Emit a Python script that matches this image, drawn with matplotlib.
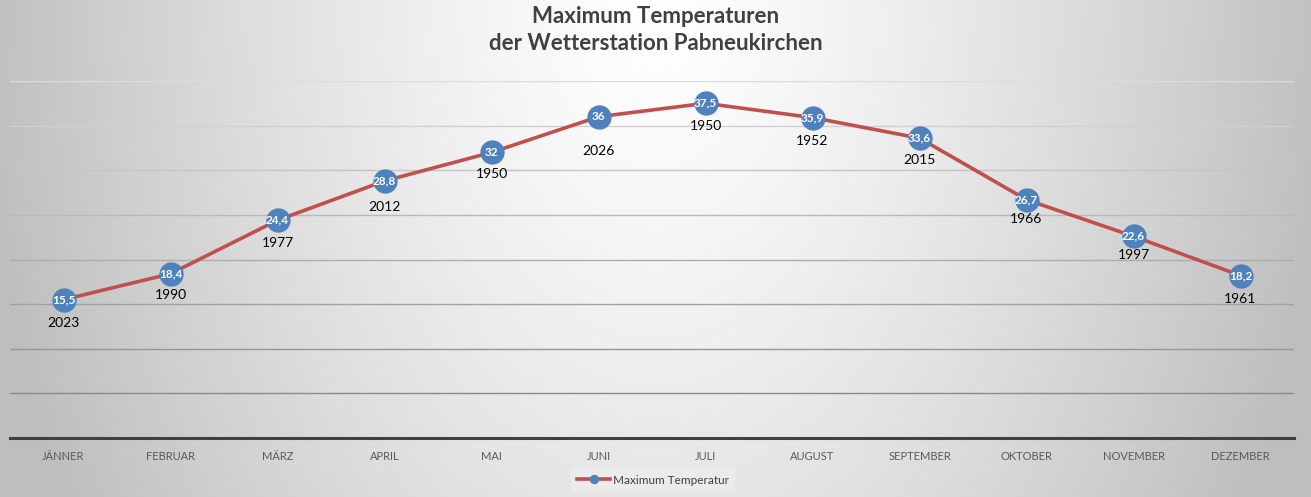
import numpy as np
import matplotlib
matplotlib.use("Agg")
import matplotlib.pyplot as plt

plt.rcParams['font.family'] = ['Lato', 'DejaVu Sans']

months = ["JÄNNER", "FEBRUAR", "MÄRZ", "APRIL", "MAI", "JUNI", "JULI",
          "AUGUST", "SEPTEMBER", "OKTOBER", "NOVEMBER", "DEZEMBER"]
max_temp = [15.5, 18.4, 24.4, 28.8, 32, 36, 37.5, 35.9, 33.6, 26.7, 22.6, 18.2]
years = ["2023", "1990", "1977", "2012", "1950", "2026", "1950", "1952",
         "2015", "1966", "1997", "1961"]
series_name = "Maximum Temperatur"
title = "Maximum Temperaturen\nder Wetterstation Pabneukirchen"

# layout: pixel offsets of the year labels below each marker
year_offsets_px = [23, 21, 23, 26, 22, 34, 23, 23, 22, 19, 19, 23]

W, H, DPI = 1311, 497, 100
fig = plt.figure(figsize=(W / DPI, H / DPI), dpi=DPI)

# radial gradient background
bg = fig.add_axes([0, 0, 1, 1], zorder=-10)
yy, xx = np.mgrid[0:H, 0:W]
r = np.sqrt(((xx - 655) / 655.0) ** 2 + ((yy - 0) / 1000.0) ** 2)
val = 255 - 62 * np.clip(r, 0, 1.15) ** 1.3
val = np.clip(val, 190, 255) / 255.0
img = np.dstack([val, val, val])
bg.imshow(img, aspect='auto', extent=[0, 1, 0, 1], origin='upper')
bg.axis('off')

left, right = 10 / W, 1294 / W
bottom, top = 1 - 438 / H, 1 - 81 / H
ax = fig.add_axes([left, bottom, right - left, top - bottom])
ax.patch.set_alpha(0)
x = np.arange(len(months))
ax.set_xlim(-0.5, len(months) - 0.5)
ax.set_ylim(0, 40)

# gridlines with vertical colour gradient
for g in range(5, 41, 5):
    t = (g - 5) / 35.0
    c = (0x8a + t * (0xdc - 0x8a)) / 255.0
    ax.axhline(g, color=(c, c, c), lw=1.0, zorder=1)

for s in ['top', 'right', 'left']:
    ax.spines[s].set_visible(False)
ax.spines['bottom'].set_color('#404040')
ax.spines['bottom'].set_linewidth(2.2)
ax.set_yticks([])
ax.set_xticks(x)
ax.set_xticklabels(months, fontsize=8, color='#595959')
ax.tick_params(axis='x', length=0, pad=9)

line, = ax.plot(x, max_temp, color='#c0504d', lw=2.6, marker='o',
                markersize=16.5, markerfacecolor='#4f81bd',
                markeredgecolor='#4f81bd', zorder=3, label=series_name)

for xi, v, yr, off in zip(x, max_temp, years, year_offsets_px):
    lbl = f"{v:g}".replace('.', ',')
    ax.text(xi, v, lbl, ha='center', va='center', color='white',
            fontsize=8.5, fontweight='bold', zorder=4)
    ax.annotate(yr, (xi, v), xytext=(0, -off * 72 / DPI),
                textcoords='offset points', ha='center', va='center',
                fontsize=10, color='black', zorder=4)

fig.text(0.5, 1 - 30 / H, title, ha='center', va='center', fontsize=16,
         fontweight='bold', color='#404040', linespacing=1.3)

# legend
leg = fig.legend(handles=[line], loc='center', bbox_to_anchor=(653 / W, 1 - 480 / H),
                 frameon=True, fontsize=8.5, handlelength=2.8, handletextpad=0.2,
                 borderpad=0.55, borderaxespad=0, fancybox=False, markerscale=0.35)
leg.get_frame().set_facecolor('#ededed')
leg.get_frame().set_edgecolor('none')
leg.get_frame().set_alpha(0.8)
for t in leg.get_texts():
    t.set_color('#404040')

fig.savefig('out.png', dpi=DPI)
